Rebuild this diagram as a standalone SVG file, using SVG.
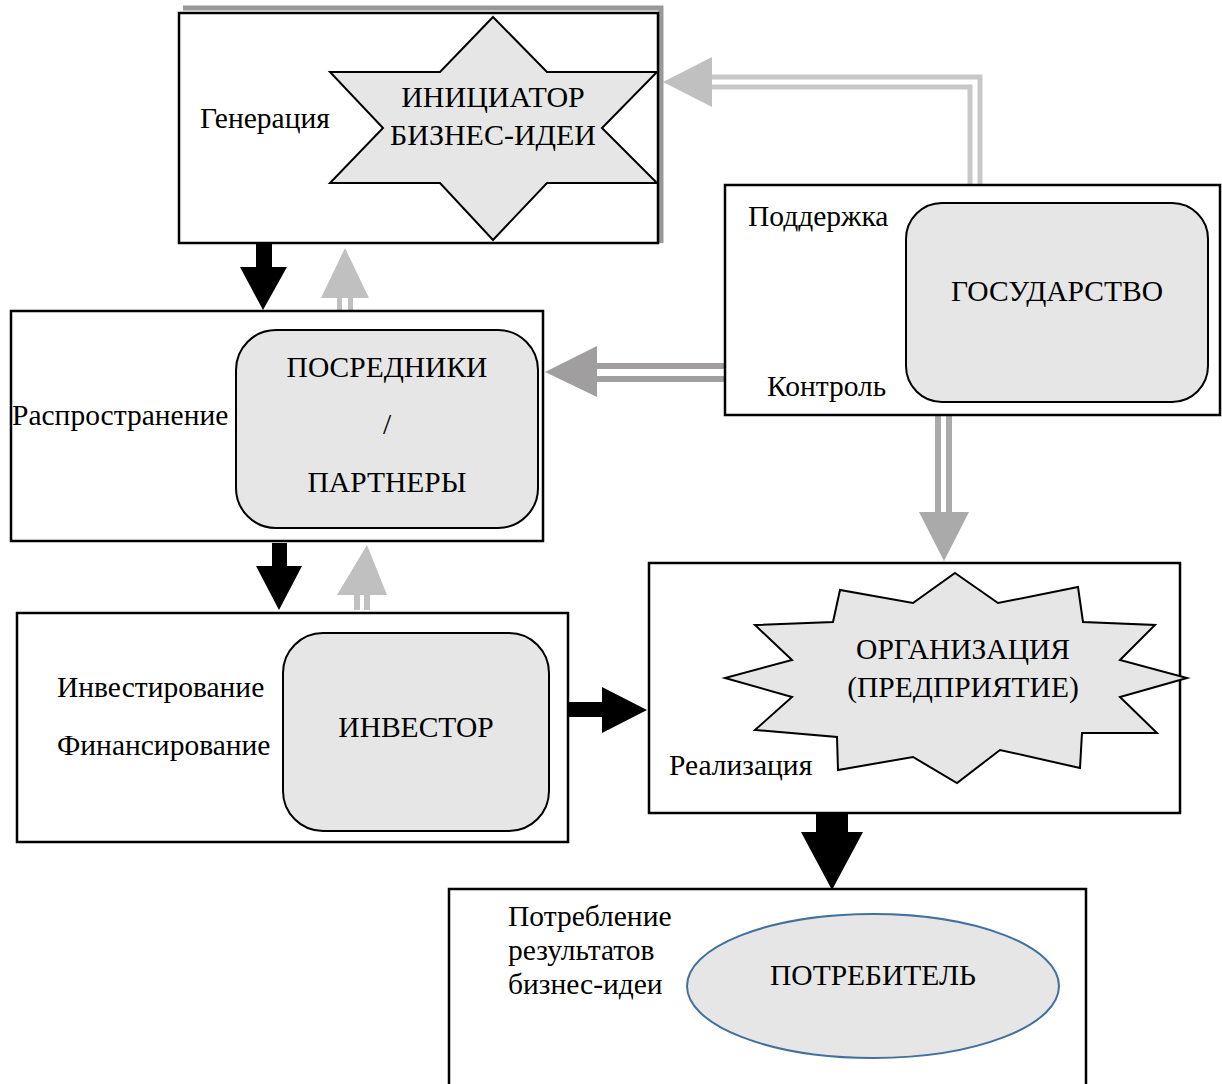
<svg xmlns="http://www.w3.org/2000/svg" width="1222" height="1084" viewBox="0 0 1222 1084">
<style>
.box{fill:#fff;stroke:#000;stroke-width:2.5}
.shape{fill:#e6e6e6;stroke:#000;stroke-width:2}
.t{font-family:"Liberation Serif","Times New Roman",serif;font-size:29.5px;fill:#000}
.c{text-anchor:middle}
.blk{fill:#000}
</style>
<rect width="1222" height="1084" fill="#fff"/>
<g id="connectors">
  <polyline points="712,77 980,77 980,185" fill="none" stroke="#c8c8c8" stroke-width="5"/>
  <polyline points="712,87 970,87 970,185" fill="none" stroke="#c8c8c8" stroke-width="5"/>
  <polygon points="663,82 712,57 712,107" fill="#c0c0c0"/>
  <polygon class="blk" points="256,243 272,243 272,267 287,267 263,310 240,267 256,267"/>
  <polygon points="345,248 369,298 321,298" fill="#c0c0c0"/>
  <rect x="337" y="297" width="5" height="13" fill="#c0c0c0"/>
  <rect x="348" y="297" width="5" height="13" fill="#c0c0c0"/>
  <line x1="596" y1="366" x2="725" y2="366" stroke="#a09e9e" stroke-width="6"/>
  <line x1="596" y1="379" x2="725" y2="379" stroke="#a09e9e" stroke-width="6"/>
  <polygon points="545,372 597,346 597,397" fill="#a09e9e"/>
  <line x1="938" y1="415" x2="938" y2="513" stroke="#aaa" stroke-width="6"/>
  <line x1="949" y1="415" x2="949" y2="513" stroke="#aaa" stroke-width="6"/>
  <polygon points="919,512 969,512 944,561" fill="#aaa"/>
  <polygon class="blk" points="272,543 287,543 287,566 302,566 279,610 256,566 272,566"/>
  <polygon points="367,545 387,595 337,595" fill="#c0c0c0"/>
  <rect x="354" y="594" width="6" height="16" fill="#c0c0c0"/>
  <rect x="364" y="594" width="6" height="16" fill="#c0c0c0"/>
  <polygon class="blk" points="568,702 602,702 602,687 647,710 602,733 602,717 568,717"/>
  <polygon class="blk" points="816,813 848,813 848,832 863,832 832,890 801,832 816,832"/>
</g>
<g id="generation">
  <polyline points="183,8 661,8 661,243" fill="none" stroke="#999" stroke-width="5"/>
  <rect class="box" x="179" y="13" width="479" height="230"/>
  <polygon class="shape" points="493,17 547,72 657,72 602,128 657,183 547,183 493,240 440,183 330,183 383,128 330,72 440,72"/>
  <text class="t" x="200" y="128">Генерация</text>
  <text class="t c" x="493" y="107" style="font-size:30px">ИНИЦИАТОР</text>
  <text class="t c" x="493" y="145" style="font-size:30px">БИЗНЕС-ИДЕИ</text>
</g>
<g id="state">
  <rect class="box" x="725" y="185" width="495" height="230"/>
  <rect class="shape" x="906" y="203" width="302" height="199" rx="36"/>
  <text class="t" x="748" y="226">Поддержка</text>
  <text class="t" x="767" y="396">Контроль</text>
  <text class="t c" x="1057" y="301">ГОСУДАРСТВО</text>
</g>
<g id="distribution">
  <rect class="box" x="11" y="311" width="532" height="230"/>
  <rect class="shape" x="236" y="330" width="302" height="198" rx="40"/>
  <text class="t" x="12" y="425">Распространение</text>
  <text class="t c" x="387" y="377">ПОСРЕДНИКИ</text>
  <text class="t c" x="387" y="434">/</text>
  <text class="t c" x="387" y="492">ПАРТНЕРЫ</text>
</g>
<g id="investment">
  <rect class="box" x="17" y="613" width="551" height="229"/>
  <rect class="shape" x="283" y="633" width="266" height="198" rx="40"/>
  <text class="t" x="57" y="697">Инвестирование</text>
  <text class="t" x="57" y="755">Финансирование</text>
  <text class="t c" x="416" y="737">ИНВЕСТОР</text>
</g>
<g id="realization">
  <rect class="box" x="649" y="563" width="531" height="250"/>
  <polygon class="shape" points="955,573 998,603 1078,587 1083,622 1155,625 1120,660 1187,678 1120,697 1157,733 1082,733 1080,768 1000,750 957,783 913,757 838,770 837,737 755,730 792,697 725,678 792,660 755,625 833,622 840,590 913,603"/>
  <text class="t" x="669" y="775">Реализация</text>
  <text class="t c" x="963" y="659">ОРГАНИЗАЦИЯ</text>
  <text class="t c" x="963" y="697">(ПРЕДПРИЯТИЕ)</text>
</g>
<g id="consumption">
  <rect class="box" x="449" y="889" width="637" height="220"/>
  <ellipse cx="873" cy="986" rx="186" ry="72" fill="#e6e6e6" stroke="#41719c" stroke-width="2"/>
  <text class="t" x="508" y="926">Потребление</text>
  <text class="t" x="508" y="960">результатов</text>
  <text class="t" x="508" y="994">бизнес-идеи</text>
  <text class="t c" x="873" y="985">ПОТРЕБИТЕЛЬ</text>
</g>
</svg>
